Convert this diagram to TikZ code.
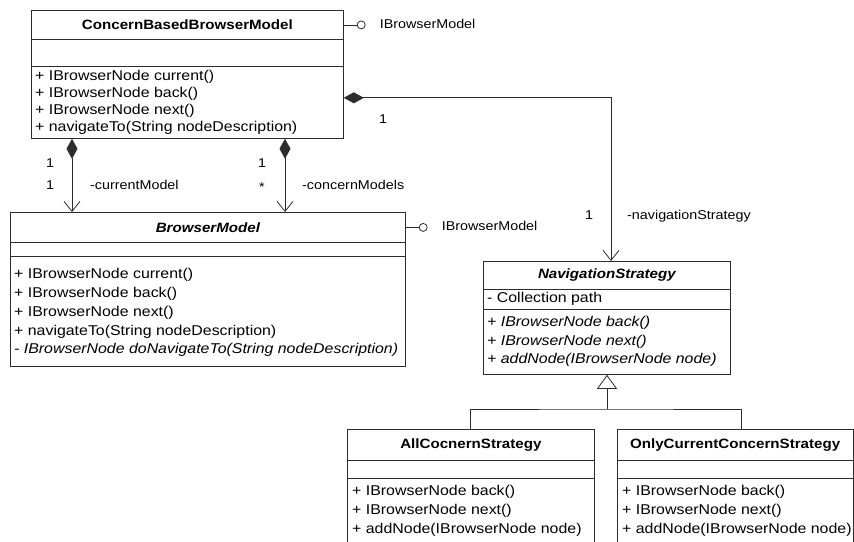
\documentclass[tikz,border=0pt]{standalone}
\usepackage{fontspec}
\setmainfont{Liberation Sans}[FakeStretch=1.12]
\usetikzlibrary{arrows.meta}
\definecolor{linec}{RGB}{45,45,45}
\newcommand{\opfont}{\fontsize{14.2}{17}\selectfont}
\newcommand{\lblfont}{\fontsize{12.8}{15}\selectfont}
\begin{document}
\begin{tikzpicture}[x=1pt,y=-1pt,
  font=\opfont,
  comp/.style={draw=linec, line width=0.8pt, inner sep=0pt, anchor=north west},
  title/.style={inner sep=0pt, font=\fontsize{13.5}{16}\selectfont\bfseries},
  op/.style={anchor=west, inner sep=0pt, text height=10pt, text depth=3pt, font=\opfont},
  iop/.style={op, font=\opfont\itshape},
  lbl/.style={inner sep=0pt, text height=10pt, text depth=3pt, font=\lblfont},
  conn/.style={draw=linec, line width=0.8pt},
  lolly/.style={circle, draw=linec, line width=0.8pt, minimum size=8pt, inner sep=0pt, anchor=west}]
\useasboundingbox (0,0) rectangle (854,541);
\fill[white] (0,0) rectangle (854,541);
\clip (0,0) rectangle (854,541);

% ConcernBasedBrowserModel
\node[comp, minimum width=312pt, minimum height=29pt] (cbbmN) at (31,10) {};
\node[comp, minimum width=312pt, minimum height=27pt] (cbbmA) at (31,39) {};
\node[comp, minimum width=312pt, minimum height=72pt] (cbbmO) at (31,66) {};
\node[title] (cbbmT) at (cbbmN.center) {ConcernBasedBrowserModel};
\node[op] (cbbm1) at (35,77) {+ IBrowserNode current()};
\node[op] (cbbm2) at (35,94) {+ IBrowserNode back()};
\node[op] (cbbm3) at (35,111) {+ IBrowserNode next()};
\node[op] (cbbm4) at (35,128) {+ navigateTo(String nodeDescription)};
\draw[conn] (cbbmN.east) -- ++(13pt,0) node[lolly] (l1) {};
\node[lbl, anchor=west] (i1) at ([xshift=14pt]l1.east) {IBrowserModel};

% BrowserModel
\node[comp, minimum width=395pt, minimum height=30pt] (bmN) at (10,212) {};
\node[comp, minimum width=395pt, minimum height=14pt] (bmA) at (10,242) {};
\node[comp, minimum width=395pt, minimum height=110pt] (bmO) at (10,256) {};
\node[title, font=\fontsize{13.5}{16}\selectfont\bfseries\itshape] (bmT) at (bmN.center) {BrowserModel};
\node[op] (bm1) at (14,275) {+ IBrowserNode current()};
\node[op] (bm2) at (14,294) {+ IBrowserNode back()};
\node[op] (bm3) at (14,313) {+ IBrowserNode next()};
\node[op] (bm4) at (14,332) {+ navigateTo(String nodeDescription)};
\node[iop] (bm5) at (14,350) {- IBrowserNode doNavigateTo(String nodeDescription)};
\draw[conn] (bmN.east) -- ++(13pt,0) node[lolly] (l2) {};
\node[lbl, anchor=west] (i2) at ([xshift=14pt]l2.east) {IBrowserModel};

% NavigationStrategy
\node[comp, minimum width=247pt, minimum height=28pt] (nsN) at (483,261) {};
\node[comp, minimum width=247pt, minimum height=20pt] (nsA) at (483,289) {};
\node[comp, minimum width=247pt, minimum height=65pt] (nsO) at (483,309) {};
\node[title, font=\fontsize{13.5}{16}\selectfont\bfseries\itshape] (nsT) at (nsN.center) {NavigationStrategy};
\node[op] (nsa1) at (487,299) {- Collection path};
\node[iop] (ns1) at (487,323) {+ IBrowserNode back()};
\node[iop] (ns2) at (487,342) {+ IBrowserNode next()};
\node[iop] (ns3) at (487,360) {+ addNode(IBrowserNode node)};

% AllCocnernStrategy
\node[comp, minimum width=247pt, minimum height=31pt] (allN) at (347,429) {};
\node[comp, minimum width=247pt, minimum height=18pt] (allA) at (347,460) {};
\node[comp, minimum width=247pt, minimum height=90pt] (allO) at (347,478) {};
\node[title] (allT) at (allN.center) {AllCocnernStrategy};
\node[op] (all1) at (352,492) {+ IBrowserNode back()};
\node[op] (all2) at (352,511) {+ IBrowserNode next()};
\node[op] (all3) at (352,530) {+ addNode(IBrowserNode node)};

% OnlyCurrentConcernStrategy
\node[comp, minimum width=235.5pt, minimum height=31pt] (onlyN) at (617,429) {};
\node[comp, minimum width=235.5pt, minimum height=18pt] (onlyA) at (617,460) {};
\node[comp, minimum width=235.5pt, minimum height=90pt] (onlyO) at (617,478) {};
\node[title] (onlyT) at (onlyN.center) {OnlyCurrentConcernStrategy};
\node[op] (only1) at (622,492) {+ IBrowserNode back()};
\node[op] (only2) at (622,511) {+ IBrowserNode next()};
\node[op] (only3) at (622,530) {+ addNode(IBrowserNode node)};

% compositions
\draw[conn, {Diamond[length=20pt,width=11pt]}-{Straight Barb[length=10pt,width=16pt]}]
  ([xshift=41pt]cbbmO.south west) -- ([xshift=62pt]bmN.north west);
\draw[conn, {Diamond[length=20pt,width=11pt]}-{Straight Barb[length=10pt,width=16pt]}]
  ([xshift=254pt]cbbmO.south west) -- ([xshift=275pt]bmN.north west);
\draw[conn, {Diamond[length=20pt,width=11pt]}-{Straight Barb[length=10pt,width=16pt]}]
  ([yshift=41pt]cbbmO.south east) -| ([xshift=128pt]nsN.north west);

% generalization
\coordinate (gj) at (607,409);
\draw[conn, -{Triangle[open, length=14pt, width=20pt]}] (gj) -- (gj |- nsO.south);
\draw[conn] ([xshift=123.5pt]allN.north west) |- (gj) -| ([xshift=124pt]onlyN.north west);

% labels
\node[lbl] (m1) at (50,164) {1};
\node[lbl] (m2) at (50,186) {1};
\node[lbl, anchor=west] (r1) at (90,186) {-currentModel};
\node[lbl] (m3) at (262,164) {1};
\node[lbl] (m4) at (262,188) {*};
\node[lbl, anchor=west] (r2) at (302,186) {-concernModels};
\node[lbl] (m5) at (383,120) {1};
\node[lbl] (m6) at (589,216) {1};
\node[lbl, anchor=west] (r3) at (627,216) {-navigationStrategy};
\end{tikzpicture}
\end{document}
